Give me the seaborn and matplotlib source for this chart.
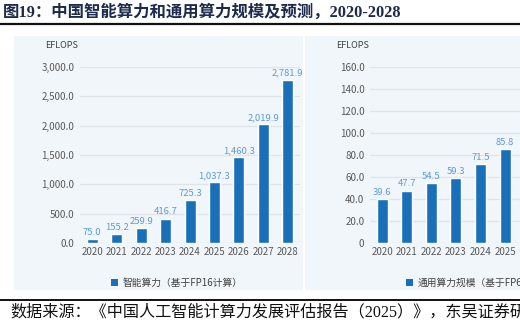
import matplotlib
matplotlib.use("Agg")
import matplotlib.pyplot as plt
from matplotlib.patches import Rectangle, Patch
from matplotlib.lines import Line2D
import seaborn as sns
import pandas as pd

# ---------------- data ----------------
years = ["2020", "2021", "2022", "2023", "2024", "2025", "2026", "2027", "2028"]
ai_compute = [75.0, 155.2, 259.9, 416.7, 725.3, 1037.3, 1460.3, 2019.9, 2781.9]
gen_years = ["2020", "2021", "2022", "2023", "2024", "2025"]
gen_compute = [39.6, 47.7, 54.5, 59.3, 71.5, 85.8]
left_ticks = [0, 500, 1000, 1500, 2000, 2500, 3000]
right_ticks = [0, 20, 40, 60, 80, 100, 120, 140, 160]
title = "图19：中国智能算力和通用算力规模及预测，2020-2028"
source = "数据来源：《中国人工智能计算力发展评估报告（2025）》，东吴证券研究所"
unit = "EFLOPS"
legend_left = "智能算力（基于FP16计算）"
legend_right = "通用算力规模（基于FP64计算）"

BAR = "#1a70b8"
VAL = "#5d9bd6"
TICK = "#595959"
GRID = "#dfe4e9"
PANEL = "#f1f6fa"

sns.set_theme(style="white")
plt.rcParams["font.family"] = ["Noto Sans CJK SC", "DejaVu Sans"]

W, H = 520, 330
fig = plt.figure(figsize=(5.2, 3.3), dpi=100)
fig.patch.set_facecolor("white")


def fx(px):
    return px / W


def fy(py):
    return 1 - py / H


# background panels
fig.patches.append(Rectangle((fx(14), fy(290)), fx(303 - 14), (290 - 36) / H,
                             transform=fig.transFigure, facecolor=PANEL,
                             edgecolor="none", zorder=-5))
fig.patches.append(Rectangle((fx(305), fy(290)), fx(520 - 305), (290 - 36) / H,
                             transform=fig.transFigure, facecolor=PANEL,
                             edgecolor="none", zorder=-5))

# title and rules
fig.text(fx(3), fy(12), title, ha="left", va="center", fontsize=11.8,
         fontweight="bold", color="#1c2a4c",
         family=["Liberation Serif", "Noto Sans CJK SC"])
fig.add_artist(Line2D([0, 1], [fy(24), fy(24)], transform=fig.transFigure,
                      color="#111111", lw=1.6))
fig.add_artist(Line2D([0, 1], [fy(300), fy(300)], transform=fig.transFigure,
                      color="#111111", lw=1.4))
fig.text(fx(10), fy(312), source, ha="left", va="center", fontsize=11.6,
         color="#111111", family=["Liberation Serif", "Noto Sans CJK SC"])


def make_axes(left_px, width_px):
    ax = fig.add_axes([fx(left_px), fy(243), fx(width_px), (243 - 67) / H])
    ax.set_facecolor("none")
    ax.set_zorder(2)
    for s in ax.spines.values():
        s.set_visible(False)
    ax.tick_params(axis="both", length=0, colors=TICK, labelsize=7)
    ax.tick_params(axis="y", pad=4)
    ax.tick_params(axis="x", pad=3)
    ax.set_axisbelow(True)
    ax.yaxis.grid(True, color=GRID, lw=0.9)
    ax.xaxis.grid(False)
    return ax


# left chart
axL = make_axes(80, 220)
dfL = pd.DataFrame({"year": years, "v": ai_compute})
sns.barplot(data=dfL, x="year", y="v", order=years, color=BAR, saturation=1,
            width=0.45, ax=axL)
axL.set_xlim(-0.5, len(years) - 0.5)
axL.set_ylim(0, 3000)
axL.set_yticks(left_ticks)
axL.set_yticklabels([f"{t:,.1f}" for t in left_ticks])
axL.set_xlabel("")
axL.set_ylabel("")
axL.bar_label(axL.containers[0], labels=[f"{v:,.1f}" for v in ai_compute],
              padding=1.5, color=VAL, fontsize=6.8)
fig.text(fx(62), fy(45), unit, ha="center", va="center", fontsize=6.5,
         color="#404040")
fig.legend(handles=[Patch(facecolor=BAR, edgecolor="none", label=legend_left)],
           loc="center", bbox_to_anchor=(fx(177), fy(283)), frameon=False,
           fontsize=7, labelcolor="#404040", handlelength=0.7,
           handleheight=0.7, handletextpad=0.5, borderpad=0)

# right chart (cut off at the right edge, as in the source screenshot)
axR = make_axes(370, 221)
dfR = pd.DataFrame({"year": gen_years, "v": gen_compute})
sns.barplot(data=dfR, x="year", y="v", order=years, color=BAR, saturation=1,
            width=0.45, ax=axR)
axR.set_xlim(-0.5, len(years) - 0.5)
axR.set_ylim(0, 160)
axR.set_xticks(range(len(gen_years)))
axR.set_xticklabels(gen_years)
axR.set_yticks(right_ticks)
axR.set_yticklabels(["0" if t == 0 else f"{t:.1f}" for t in right_ticks])
axR.set_xlabel("")
axR.set_ylabel("")
axR.bar_label(axR.containers[0], labels=[f"{v:.1f}" for v in gen_compute],
              padding=1.5, color=VAL, fontsize=6.8)
fig.text(fx(353), fy(45), unit, ha="center", va="center", fontsize=6.5,
         color="#404040")
fig.legend(handles=[Patch(facecolor=BAR, edgecolor="none", label=legend_right)],
           loc="center", bbox_to_anchor=(fx(482), fy(283)), frameon=False,
           fontsize=7, labelcolor="#404040", handlelength=0.7,
           handleheight=0.7, handletextpad=0.5, borderpad=0)

fig.savefig("out.png", dpi=100)
